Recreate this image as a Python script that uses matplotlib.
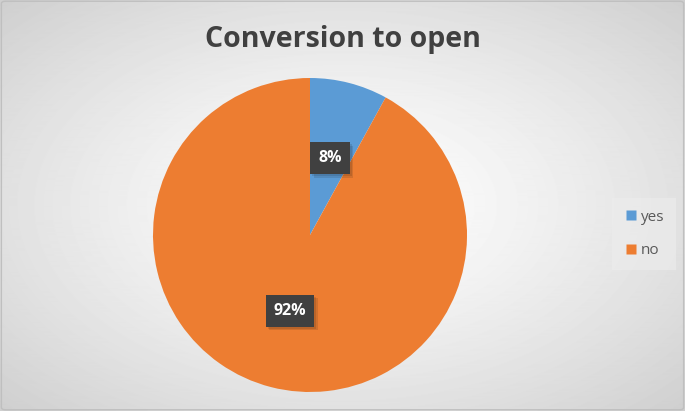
import numpy as np
import matplotlib.pyplot as plt
import matplotlib.patheffects as pe
from matplotlib.patches import FancyBboxPatch
from matplotlib.lines import Line2D

labels = ['yes', 'no']
values = [8, 92]
colors = ['#5B9BD5', '#ED7D31']
title = 'Conversion to open'

W, H = 685, 411
FONT = ['Open Sans', 'DejaVu Sans']
fig = plt.figure(figsize=(W / 100, H / 100), dpi=100)

# radial gradient background
bg = fig.add_axes([0, 0, 1, 1])
yy, xx = np.mgrid[0:H, 0:W]
r = np.sqrt(((xx - W / 2) / (W / 2)) ** 2 + ((yy - H / 2) / (H / 2)) ** 2) / np.sqrt(2)
shade = 1.0 - 0.19 * np.clip(r, 0, 1) ** 1.3
bg.imshow(shade, cmap='gray', vmin=0, vmax=1, extent=[0, 1, 0, 1], aspect='auto')
bg.set_xlim(0, 1)
bg.set_ylim(0, 1)
bg.axis('off')
bg.add_patch(FancyBboxPatch((0.002, 0.003), 0.996, 0.994,
                            boxstyle='round,pad=0,rounding_size=0.006',
                            transform=bg.transAxes, facecolor='none',
                            edgecolor='#BFBFBF', linewidth=1.0))

# pie
cx, cy, rad = 310, 235, 157
ax = fig.add_axes([(cx - rad) / W, (H - cy - rad) / H, 2 * rad / W, 2 * rad / H])
ax.pie(values, colors=colors, startangle=90, counterclock=False,
       wedgeprops=dict(edgecolor='none'))
ax.set_xlim(-1, 1)
ax.set_ylim(-1, 1)
ax.set_aspect('equal')

label_pos = [(0.127, 0.49), (-0.127, -0.484)]
for v, (px, py) in zip(values, label_pos):
    t = ax.text(px, py, f'{v}%', ha='center', va='center', color='white',
                fontsize=11.5, fontweight='bold', family=FONT,
                bbox=dict(boxstyle='square,pad=0.5', facecolor='#404040',
                          edgecolor='none'))
    t.get_bbox_patch().set_path_effects(
        [pe.SimplePatchShadow(offset=(2.5, -2.5), alpha=0.12),
         pe.SimplePatchShadow(offset=(1.5, -1.5), alpha=0.12), pe.Normal()])

fig.text(0.5, 1 - 39 / H, title, ha='center', va='center', fontsize=20.5,
         fontweight='bold', color='#404040', family=FONT)

handles = [Line2D([], [], marker='s', linestyle='none', markersize=7,
                  markerfacecolor=c, markeredgecolor='none') for c in colors]
leg = fig.legend(handles, labels, loc='center', bbox_to_anchor=(644 / W, 1 - 234 / H),
                 frameon=True, labelspacing=1.2, handletextpad=0.1,
                 handlelength=1.0, borderpad=0.8, labelcolor='#595959',
                 prop=dict(family=FONT, size=11))
leg.get_frame().set_facecolor('#EDEDED')
leg.get_frame().set_edgecolor('none')
leg.get_frame().set_alpha(0.6)
leg.get_frame().set_boxstyle('square', pad=0)

fig.savefig('out.png', dpi=100)
